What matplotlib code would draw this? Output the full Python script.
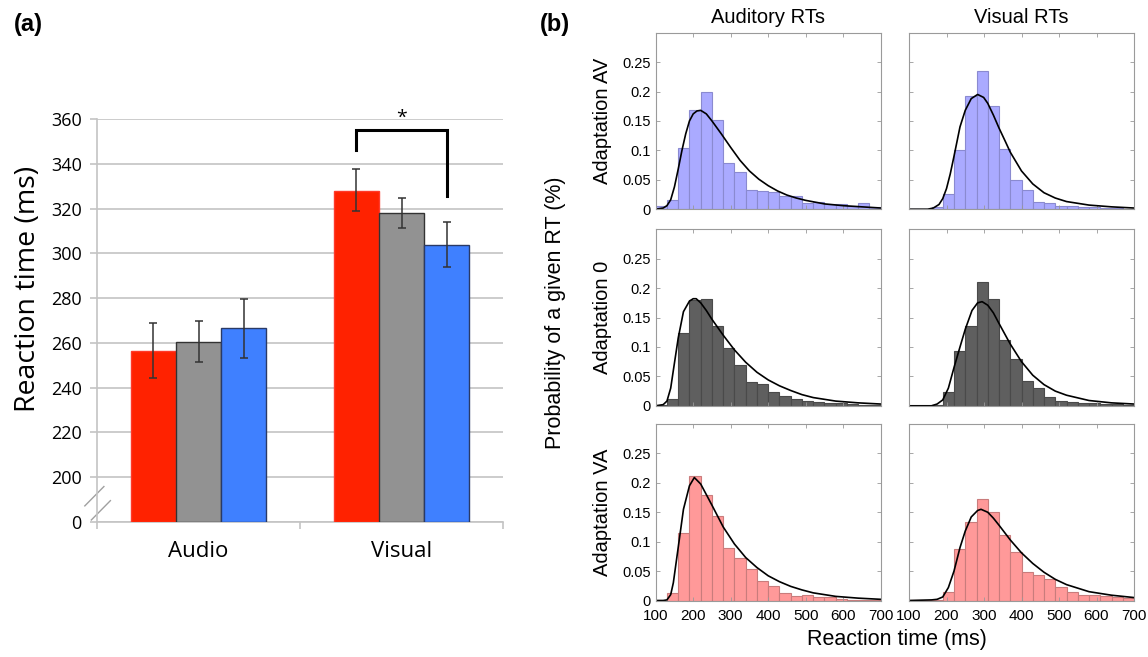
"""
Reaction time figure: (a) mean RTs per modality, (b) RT distributions
"""

import numpy as np
import matplotlib
matplotlib.use('Agg')
import matplotlib.pyplot as plt

# ---- data, panel (a) ----
groups = ['Audio', 'Visual']
conds = ['Adaptation VA', 'Adaptation 0', 'Adaptation AV']
rt_mean = {'Adaptation VA': [256.3, 327.7],
           'Adaptation 0': [260.4, 317.9],
           'Adaptation AV': [266.5, 303.9]}
rt_lo = {'Adaptation VA': [244.1, 318.8],
         'Adaptation 0': [251.5, 311.1],
         'Adaptation AV': [253.3, 294.1]}
rt_hi = {'Adaptation VA': [268.7, 337.5],
         'Adaptation 0': [269.6, 324.8],
         'Adaptation AV': [279.7, 314.0]}
yticks_a = [180, 200, 220, 240, 260, 280, 300, 320, 340, 360]
ylabels_a = ['0', '200', '220', '240', '260', '280', '300', '320', '340', '360']

# ---- data, panel (b) ----
bin_edges = [100, 130, 160, 190, 220, 250, 280, 310, 340, 370, 400,
             430, 460, 490, 520, 550, 580, 610, 640, 670, 700]
rows = ['Adaptation AV', 'Adaptation 0', 'Adaptation VA']
cols = ['Auditory RTs', 'Visual RTs']

hist_av_aud = [0.006, 0.016, 0.104, 0.168, 0.200, 0.151, 0.078, 0.063, 0.032, 0.031,
               0.030, 0.022, 0.022, 0.011, 0.012, 0.008, 0.008, 0.005, 0.010, 0.003]
hist_av_vis = [0.0005, 0.001, 0.003, 0.026, 0.101, 0.192, 0.235, 0.175, 0.103, 0.049,
               0.032, 0.012, 0.010, 0.005, 0.005, 0.004, 0.003, 0.002, 0.002, 0.001]
hist_0_aud = [0.001, 0.012, 0.123, 0.179, 0.181, 0.136, 0.098, 0.070, 0.041, 0.037,
              0.024, 0.017, 0.011, 0.009, 0.007, 0.005, 0.004, 0.003, 0.002, 0.002]
hist_0_vis = [0.0, 0.0, 0.001, 0.024, 0.093, 0.135, 0.211, 0.182, 0.112, 0.080,
              0.042, 0.030, 0.015, 0.009, 0.006, 0.005, 0.004, 0.003, 0.003, 0.002]
hist_va_aud = [0.0, 0.012, 0.115, 0.211, 0.179, 0.143, 0.090, 0.072, 0.054, 0.033,
               0.025, 0.013, 0.008, 0.010, 0.006, 0.006, 0.002, 0.001, 0.001, 0.001]
hist_va_vis = [0.001, 0.001, 0.001, 0.015, 0.088, 0.133, 0.173, 0.150, 0.112, 0.082,
               0.049, 0.043, 0.036, 0.023, 0.015, 0.010, 0.009, 0.007, 0.006, 0.0045]

# fitted curves (ms, probability)
fit_av_aud_x = [100, 120, 130, 140, 150, 160, 170, 180, 190, 200, 210, 220, 235, 250,
                275, 300, 325, 350, 375, 400, 425, 450, 475, 500, 550, 600, 650, 700]
fit_av_aud_y = [0.000, 0.002, 0.006, 0.016, 0.038, 0.068, 0.100, 0.128, 0.150, 0.162,
                0.167, 0.168, 0.162, 0.150, 0.128, 0.105, 0.083, 0.065, 0.051, 0.040,
                0.031, 0.024, 0.019, 0.015, 0.009, 0.006, 0.004, 0.002]
fit_av_vis_x = [100, 150, 165, 180, 190, 200, 210, 220, 236, 250, 266, 283, 299,
                310, 325, 340, 357, 370, 400, 430, 460, 490, 520, 580, 640, 700]
fit_av_vis_y = [0.000, 0.000, 0.002, 0.008, 0.018, 0.035, 0.060, 0.090, 0.140, 0.168,
                0.188, 0.195, 0.190, 0.180, 0.160, 0.138, 0.115, 0.097, 0.065, 0.043,
                0.028, 0.019, 0.013, 0.007, 0.004, 0.002]
fit_0_aud_x = [100, 120, 130, 140, 147, 160, 174, 190, 200, 208, 220, 235, 250,
               280, 310, 340, 370, 400, 430, 460, 490, 520, 580, 640, 700]
fit_0_aud_y = [0.000, 0.002, 0.008, 0.030, 0.060, 0.115, 0.160, 0.178, 0.182, 0.182,
               0.175, 0.162, 0.147, 0.120, 0.095, 0.074, 0.057, 0.044, 0.034, 0.026,
               0.019, 0.014, 0.008, 0.005, 0.003]
fit_0_vis_x = [100, 160, 175, 190, 205, 220, 236, 250, 268, 283, 295, 310, 325,
               340, 370, 400, 430, 460, 490, 520, 580, 640, 700]
fit_0_vis_y = [0.000, 0.000, 0.003, 0.010, 0.030, 0.065, 0.100, 0.130, 0.162, 0.175,
               0.177, 0.171, 0.158, 0.140, 0.105, 0.075, 0.052, 0.036, 0.025, 0.018,
               0.009, 0.005, 0.003]
fit_va_aud_x = [100, 120, 130, 140, 147, 160, 174, 190, 203, 220, 235, 250, 280,
                310, 340, 370, 400, 430, 460, 490, 520, 580, 640, 700]
fit_va_aud_y = [0.000, 0.000, 0.001, 0.010, 0.030, 0.090, 0.155, 0.195, 0.209, 0.198,
                0.180, 0.162, 0.125, 0.096, 0.073, 0.056, 0.042, 0.032, 0.024, 0.018,
                0.013, 0.007, 0.004, 0.002]
fit_va_vis_x = [100, 160, 175, 190, 205, 220, 236, 250, 266, 283, 292, 310, 325,
                340, 370, 400, 430, 460, 490, 520, 580, 640, 700]
fit_va_vis_y = [0.000, 0.001, 0.002, 0.006, 0.022, 0.050, 0.090, 0.118, 0.142, 0.153,
                0.155, 0.150, 0.140, 0.128, 0.103, 0.081, 0.063, 0.048, 0.036, 0.027,
                0.015, 0.009, 0.005]

hists = [[hist_av_aud, hist_av_vis], [hist_0_aud, hist_0_vis], [hist_va_aud, hist_va_vis]]
fits = [[(fit_av_aud_x, fit_av_aud_y), (fit_av_vis_x, fit_av_vis_y)],
        [(fit_0_aud_x, fit_0_aud_y), (fit_0_vis_x, fit_0_vis_y)],
        [(fit_va_aud_x, fit_va_aud_y), (fit_va_vis_x, fit_va_vis_y)]]

# ---- styles ----
bar_colors = {'Adaptation VA': '#ff2200', 'Adaptation 0': '#929292', 'Adaptation AV': '#3f80ff'}
bar_edges = {'Adaptation VA': '#ff3a2a', 'Adaptation 0': '#333333', 'Adaptation AV': '#2a3a66'}
hist_colors = [('#aaaaff', '#8a8ad0'), ('#5f5f5f', '#4a4a4a'), ('#ff9999', '#c97c7c')]

W, H = 1148, 657
fig = plt.figure(figsize=(W / 100, H / 100), dpi=100)


def px_rect(l, t, r, b):
    # pixel box -> figure fraction
    return [l / W, 1 - b / H, (r - l) / W, (b - t) / H]


# ================= panel (a) =================
ax = fig.add_axes(px_rect(97, 119, 503, 522))
bw = 0.2217
x = np.arange(len(groups))
base = yticks_a[0]
for i, c in enumerate(conds):
    m = np.array(rt_mean[c])
    lo = m - np.array(rt_lo[c])
    hi = np.array(rt_hi[c]) - m
    ax.bar(x + (i - 1) * bw, m - base, bw, bottom=base, color=bar_colors[c],
           edgecolor=bar_edges[c], linewidth=1.0, zorder=3)
    ax.errorbar(x + (i - 1) * bw, m, yerr=[lo, hi], fmt='none', ecolor='#333333',
                elinewidth=1.1, capsize=3, capthick=1.1, zorder=4)

ax.set_ylim(yticks_a[0], yticks_a[-1])
ax.set_xlim(-0.5, 1.5)
ax.set_yticks(yticks_a)
ax.set_yticklabels(ylabels_a, fontsize=13, family='Open Sans')
ax.yaxis.grid(True, color='#c4c4c4', linewidth=1.2, zorder=0)
ax.set_axisbelow(True)
for s in ['top', 'right']:
    ax.spines[s].set_visible(False)
for s in ['left', 'bottom']:
    ax.spines[s].set_color('#c4c4c4')
    ax.spines[s].set_linewidth(1.2)
ax.tick_params(axis='y', length=5, color='#c4c4c4', width=1.2, pad=6)
ax.set_xticks([-0.5, 0.5, 1.5])
ax.set_xticklabels([])
ax.set_xticks(x, minor=True)
ax.set_xticklabels(groups, minor=True, fontsize=16, family='Open Sans')
ax.tick_params(axis='x', which='major', length=5, color='#c4c4c4', width=1.2)
ax.tick_params(axis='x', which='minor', length=0, pad=14)

# axis break marks
for dx in [0.0, 0.016]:
    ax.plot([-0.030 + dx, 0.017 + dx], [0.040 - 0.035 * dx / 0.016, 0.088 - 0.035 * dx / 0.016],
            transform=ax.transAxes, color='#a0a0a0', lw=1.0, clip_on=False)

# significance bracket between VA and AV in visual
x_l = x[1] - bw
x_r = x[1] + bw
ax.plot([x_l, x_l, x_r, x_r], [346, 355.2, 355.2, 325.5], color='black', lw=2.2,
        solid_joinstyle='miter', clip_on=False, zorder=5)
ax.text(x[1], 356.5, '*', ha='center', va='bottom', fontsize=14, family='Open Sans')

fig.text(28 / W, 1 - 289 / H, 'Reaction time (ms)', rotation=90, ha='center', va='center',
         fontsize=20.5, family='Open Sans')
fig.text(14 / W, 1 - 25 / H, '(a)', ha='left', va='center', fontsize=17,
         fontweight='bold', family='Liberation Sans')

# ================= panel (b) =================
col_l = [655.7, 909.0]
row_t = [32.7, 229.3, 424.0]
aw, ah = 225.0, 176.5
hfont = 'Liberation Sans'
for r in range(3):
    for c in range(2):
        axh = fig.add_axes(px_rect(col_l[c], row_t[r], col_l[c] + aw, row_t[r] + ah))
        fc, ec = hist_colors[r]
        axh.bar(bin_edges[:-1], hists[r][c], width=np.diff(bin_edges), align='edge',
                color=fc, edgecolor=ec, linewidth=0.8)
        fx, fy = fits[r][c]
        axh.plot(fx, fy, color='black', lw=1.2)
        axh.set_xlim(100, 700)
        axh.set_ylim(0, 0.3)
        axh.set_xticks([100, 200, 300, 400, 500, 600, 700])
        axh.set_yticks([0, 0.05, 0.1, 0.15, 0.2, 0.25])
        axh.tick_params(direction='in', top=True, right=True, length=3, width=0.6,
                        color='#999999', labelsize=10.5)
        axh.tick_params(axis='x', pad=6)
        for s in axh.spines.values():
            s.set_color('#9a9a9a')
            s.set_linewidth(0.8)
        if c == 0:
            axh.set_yticklabels(['0', '0.05', '0.1', '0.15', '0.2', '0.25'], family=hfont)
            fig.text(603 / W, 1 - (row_t[r] + ah / 2) / H, rows[r], rotation=90,
                     ha='center', va='center', fontsize=14.5, family=hfont)
        else:
            axh.set_yticklabels([])
        if r == 2:
            axh.set_xticklabels(['100', '200', '300', '400', '500', '600', '700'],
                                family=hfont, fontsize=11)
        else:
            axh.set_xticklabels([])
        if r == 0:
            axh.set_title(cols[c], fontsize=14.5, family=hfont, pad=7)

fig.text(897 / W, 1 - 640 / H, 'Reaction time (ms)', ha='center', va='center',
         fontsize=15.5, family=hfont)
fig.text(555 / W, 1 - 313 / H, 'Probability of a given RT (%)', rotation=90,
         ha='center', va='center', fontsize=15.5, family=hfont)
fig.text(540 / W, 1 - 25 / H, '(b)', ha='left', va='center', fontsize=17,
         fontweight='bold', family=hfont)

fig.savefig('out.png', dpi=100)
